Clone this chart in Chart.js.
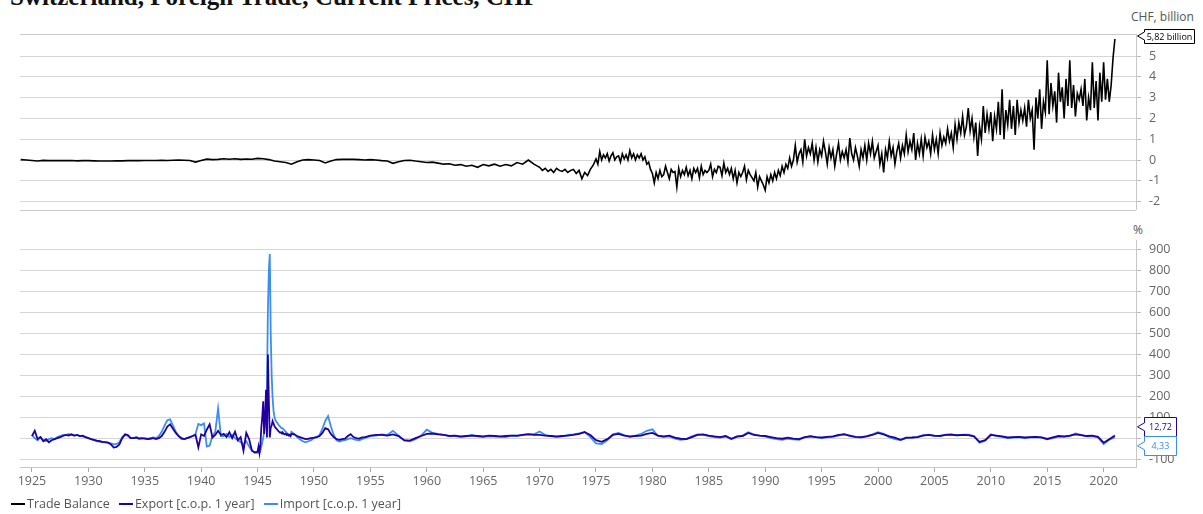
<!DOCTYPE html>
<html>
<head>
<meta charset="utf-8">
<script src="https://cdn.jsdelivr.net/npm/chart.js@4.4.1/dist/chart.umd.min.js"></script>
<style>
  html, body { margin: 0; padding: 0; background: #fff; }
  body { width: 1203px; height: 514px; position: relative; overflow: hidden; font-family: "Open Sans", sans-serif; }
  canvas { position: absolute; left: 0; }
  #title { position: absolute; left: 10px; top: -16px; font: bold 25px/25px "Liberation Serif", serif; color: #111; white-space: nowrap; }
  .unit { position: absolute; font-size: 12px; color: #555; white-space: nowrap; }
  #legend { position: absolute; left: 11px; top: 495px; font-size: 12.5px; color: #555; white-space: nowrap; }
  #legend span { margin-right: 6px; }
  #legend i { display: inline-block; width: 14px; height: 2px; vertical-align: middle; margin-right: 2px; position: relative; top: -1px; }
</style>
</head>
<body>
<div id="title">Switzerland, Foreign Trade, Current Prices, CHF</div>
<div class="unit" style="left:1131px; top:8px;">CHF, billion</div>
<div class="unit" style="left:1133px; top:221px;">%</div>
<canvas id="topChart" width="1203" height="225" style="top:0"></canvas>
<canvas id="bottomChart" width="1203" height="275" style="top:225px"></canvas>
<div id="legend">
  <span><i style="background:#000"></i>Trade Balance</span>
  <span><i style="background:#2200a0"></i>Export [c.o.p. 1 year]</span>
  <span><i style="background:#3b8ef0"></i>Import [c.o.p. 1 year]</span>
</div>
<script>
// axis ranges and tick labels
const X_MIN = 1923.94;
const X_MAX = 2022.87;
const xTickYears = [1925, 1930, 1935, 1940, 1945, 1950, 1955, 1960, 1965, 1970,
  1975, 1980, 1985, 1990, 1995, 2000, 2005, 2010, 2015, 2020];
const balanceTicks = [-2, -1, 0, 1, 2, 3, 4, 5];
const changeTicks = [-100, 0, 100, 200, 300, 400, 500, 600, 700, 800, 900];

// trade balance, CHF billion: 1924.0 .. 1969.5, half-yearly
const tradeEarly = [
  0.02, 0.00, -0.02, -0.05, -0.02, -0.03, -0.02, -0.03, -0.03, -0.02,
  -0.04, -0.03, -0.03, -0.04, -0.05, -0.05, -0.05, -0.04, -0.04, -0.03,
  -0.03, -0.03, -0.02, -0.02, -0.02, -0.01, -0.02, -0.01, 0.00, -0.01,
  -0.02, -0.10, -0.02, 0.04, 0.02, 0.03, 0.06, 0.04, 0.06, 0.03,
  0.05, 0.04, 0.08, 0.06, 0.02, -0.05, -0.08, -0.12, -0.20, -0.08,
  0.00, 0.02, 0.00, -0.02, -0.14, -0.05, 0.02, 0.03, 0.04, 0.03,
  0.02, 0.00, 0.02, 0.00, -0.03, -0.05, -0.16, -0.08, -0.02, -0.01,
  -0.05, -0.08, -0.12, -0.10, -0.15, -0.20, -0.18, -0.25, -0.22, -0.30,
  -0.25, -0.35, -0.22, -0.28, -0.20, -0.30, -0.22, -0.28, -0.12, -0.20,
  0.00, -0.20
];
// trade balance: 1970.0 .. 1974.75, quarterly
const tradeMid = [
  -0.35, -0.50, -0.40, -0.55,
  -0.45, -0.60, -0.40, -0.50,
  -0.55, -0.45, -0.60, -0.50,
  -0.45, -0.65, -0.50, -0.90,
  -0.60, -0.75, -0.45, -0.25
];
// trade balance: 1975.0 .. 2021.0, every two months
const tradeLate = [
  0.05, -0.20, 0.40, 0.00, 0.25, 0.10,
  0.30, -0.05, 0.20, 0.35, 0.00, 0.15,
  0.20, -0.10, 0.30, 0.05, 0.25, 0.00,
  0.45, 0.10, 0.30, 0.00, 0.25, 0.10,
  0.30, 0.00, 0.15, -0.20, -0.10, -0.45,
  -0.65, -1.10, -0.60, -0.90, -0.50, -0.80,
  -0.70, -0.30, -0.60, -0.90, -0.45, -0.60,
  -0.55, -1.30, -0.40, -0.80, -0.50, -0.70,
  -0.35, -0.75, -0.50, -0.90, -0.40, -0.60,
  -0.40, -0.85, -0.30, -0.70, -0.50, -0.60,
  -0.50, -0.20, -0.80, -0.45, -0.60, -0.30,
  -0.35, -0.75, -0.15, -0.60, -0.40, -0.70,
  -0.40, -0.90, -0.50, -1.10, -0.60, -0.80,
  -0.60, -0.30, -0.95, -0.50, -0.70, -0.85,
  -1.00, -0.60, -1.30, -0.80, -1.00, -1.20,
  -1.45, -0.80, -1.10, -0.70, -1.00, -0.60,
  -0.90, -0.50, -0.75, -0.30, -0.60, -0.20,
  -0.40, 0.10, -0.30, 0.00, 0.70, -0.10,
  0.30, 0.50, -0.10, 1.00, 0.20, 0.60,
  0.30, 0.80, 0.00, 0.60, -0.10, 0.50,
  0.20, 0.90, 0.40, -0.20, 0.60, 0.10,
  0.50, -0.30, 0.30, 0.80, 0.00, 0.40,
  0.10, 0.50, -0.10, 1.05, 0.30, 0.00,
  0.60, 0.20, -0.30, 0.50, 0.10, 0.70,
  0.00, 0.80, 0.30, 0.90, 0.10, 0.40,
  0.70, -0.20, 0.30, -0.60, 0.50, 0.10,
  0.90, 0.20, 0.60, -0.20, 0.40, 0.80,
  0.10, 0.70, 0.30, 1.20, 0.40, 0.90,
  0.50, 1.30, 0.00, 0.80, 0.30, 1.00,
  0.20, 1.10, 0.60, 0.90, 0.30, 1.20,
  0.50, 1.00, 0.30, 1.30, 0.70, 1.10,
  0.80, 1.50, 0.90, 1.30, 0.60, 1.70,
  1.00, 1.80, 1.30, 2.10, 1.20, 1.60,
  2.50, 1.40, 2.00, 1.10, 1.80, 0.20,
  1.60, 1.00, 2.60, 1.30, 2.20, 1.50,
  2.30, 0.90, 2.10, 1.50, 2.80, 1.20,
  3.40, 1.00, 2.40, 1.70, 2.90, 1.50,
  2.60, 1.20, 2.90, 1.80, 2.40, 1.90,
  2.50, 1.60, 2.90, 2.00, 2.40, 0.50,
  3.00, 2.00, 3.40, 1.50, 2.80, 2.30,
  4.80, 2.20, 3.70, 2.60, 3.30, 1.80,
  4.20, 2.80, 3.50, 2.00, 3.90, 2.60,
  4.80, 2.50, 3.60, 2.10, 3.20, 2.90,
  3.40, 2.60, 3.90, 1.90, 3.00, 2.40,
  4.70, 2.50, 3.80, 1.90, 4.20, 2.80,
  4.70, 2.90, 3.90, 2.80, 3.60, 4.90,
  5.82
];

// export, % change on previous year
const exportEarly = [ // 1925.0 .. 1944.75, quarterly
  10, 35, -5, 5,  -15, -5, -20, -10,  -5, 0, 5, 10,  15, 12, 18, 12,  15, 10, 12, 5,
  0, -5, -8, -12,  -15, -18, -20, -22,  -30, -45, -42, -30,  0, 18, 15, 0,  0, 2, -3, 0,
  -2, -5, -3, 0,  -5, 0, 10, 30,  55, 66, 45, 25,  10, 0, -5, 0,  5, 10, 15, -44,
  18, 10, 40, 66,  3, 15, 35, 15,  20, 5, 28, 0,  30, -10, 5, -60,  25, -5, -60, -68
];
const exportWar = [ // 1945.0 .. 1947.917, monthly
  -65, -40, -70, -30, 50, 100, 176, 20, 100, 231, 3, 399,
  176, 3, 50, 60, 81, 70, 57, 50, 45, 40, 34, 30,
  26, 28, 22, 25, 20, 18, 20, 15, 18, 12, 15, 10
];
const exportMid = [ // 1948.0 .. 1954.75, quarterly
  20, 18, 10, 5,  0, -5, -3, 0,  2, 5, 10, 25,  48, 42, 20, 5,
  -5, -8, -5, -3,  10, 19, 5, 0,  -2, 3, 5, 8
];
const exportLate = [ // 1955.0 .. 2021.0, half-yearly
  12, 15, 15, 12, 18, 10, -10, -12, 0, 10,
  20, 22, 18, 15, 10, 12, 8, 10, 12, 10,
  8, 12, 10, 8, 10, 12, 12, 15, 18, 15,
  15, 12, 10, 8, 10, 12, 15, 20, 28, 15,
  -10, -18, -5, 15, 20, 12, 8, 10, 12, 20,
  25, 12, 8, 12, 2, -3, -5, 5, 15, 18,
  12, 8, 5, 10, -3, 8, 10, 25, 15, 12,
  10, 5, 0, -3, 2, -2, -5, 5, 8, 5,
  3, 6, 8, 15, 18, 12, 6, 5, 8, 15,
  25, 18, 8, 2, -8, 2, 3, 5, 12, 15,
  12, 10, 15, 16, 14, 15, 14, 8, -18, -10,
  15, 12, 8, 3, 5, 6, 3, 5, 6, 4,
  -4, 3, 10, 8, 12, 18, 14, 10, 12, 6,
  -22, -5, 12.72
];

// import, % change on previous year
const importEarly = [ // 1925.0 .. 1944.75, quarterly
  15, 0, -10, 5,  -10, -15, -5, 0,  -5, 5, 10, 15,  15, 20, 15, 12,  15, 10, 8, 5,
  0, -5, -10, -15,  -15, -20, -18, -22,  -25, -30, -28, -20,  5, 15, 10, 0,  0, 5, 0, -2,
  0, -3, 0, 3,  0, 10, 30, 60,  85, 90, 60, 30,  10, -5, -5, 0,  5, 10, 20, 68,
  62, 70, -40, -35,  10, 30, 141, 10,  10, 20, 5, 15,  0, -10, -20, -30,  -15, -40, -60, -70
];
const importWar = [ // 1945.0 .. 1947.917, monthly
  -70, -65, -72, -60, -40, -20, 0, 30, 60, 120, 250, 616,
  800, 879, 500, 300, 192, 130, 100, 85, 78, 73, 65, 60,
  55, 50, 48, 45, 40, 35, 30, 25, 20, 18, 15, 10
];
const importMid = [ // 1948.0 .. 1954.75, quarterly
  30, 20, 5, -5,  -15, -20, -15, -10,  0, 5, 15, 45,  82, 105, 55, 15,
  -10, -16, -12, -10,  -5, 0, -5, -8,  -10, -5, 0, 5
];
const importLate = [ // 1955.0 .. 2021.0, half-yearly
  10, 12, 18, 15, 35, 12, -12, -15, -5, 12,
  40, 25, 20, 15, 12, 10, 5, 8, 15, 8,
  5, 10, 8, 6, 5, 12, 10, 15, 20, 18,
  32, 15, 10, 5, 8, 15, 18, 22, 30, 5,
  -25, -28, -10, 18, 25, 15, 5, 12, 20, 35,
  42, 10, 5, 8, -3, -8, -5, 8, 18, 15,
  10, 5, 3, 8, -5, 6, 12, 28, 18, 12,
  8, 0, -5, -8, -3, -6, -8, 3, 10, 5,
  0, 4, 6, 12, 20, 10, 5, 3, 10, 18,
  28, 20, 5, -5, -9, 0, 2, 6, 14, 16,
  10, 12, 17, 18, 12, 16, 16, 10, -22, -12,
  18, 10, 6, 0, 3, 5, 0, 4, 5, 2,
  -6, 0, 8, 6, 10, 22, 15, 8, 10, 3,
  -28, -8, 4.33
];

const GRID = '#d6d6d6';
const AXIS = '#c8c8c8';
const TICK_FONT = { family: 'Open Sans', size: 12.5 };
const BLACK = '#000000';
const EXPORT_COLOR = '#2200a0';
const IMPORT_COLOR = '#3b8ef0';

function seg(start, step, values) {
    return values.map((v, i) => ({ x: start + i * step, y: v }));
}

const tradeSeries = [...seg(1924, 0.5, tradeEarly), ...seg(1970, 0.25, tradeMid),
    ...seg(1975, 1 / 6, tradeLate)];
const exportSeries = [...seg(1925, 0.25, exportEarly), ...seg(1945, 1 / 12, exportWar),
    ...seg(1948, 0.25, exportMid), ...seg(1955, 0.5, exportLate)];
const importSeries = [...seg(1925, 0.25, importEarly), ...seg(1945, 1 / 12, importWar),
    ...seg(1948, 0.25, importMid), ...seg(1955, 0.5, importLate)];

function decimalComma(v) {
    return v.toFixed(2).replace('.', ',');
}

/**
 * Lines on the top and bottom edge of the plot area.
 */
const panelFrame = {
    id: 'panelFrame',
    beforeDatasetsDraw(chart, args, opts) {
        const { ctx, chartArea } = chart;
        ctx.save();
        ctx.strokeStyle = AXIS;
        ctx.lineWidth = 1;
        ctx.beginPath();
        for (const edge of opts.edges || []) {
            const y = Math.round(chartArea[edge]) + 0.5;
            ctx.moveTo(chartArea.left, y);
            ctx.lineTo(chartArea.right, y);
        }
        ctx.stroke();
        ctx.restore();
    }
};

/**
 * Last value boxes on the right axis.
 */
const valueTags = {
    id: 'valueTags',
    afterDraw(chart, args, opts) {
        const { ctx, chartArea } = chart;
        const yScale = chart.scales.y;
        const tags = opts.tags.map(t => {
            const data = chart.data.datasets[t.dataset].data;
            const last = data[data.length - 1].y;
            return { ...t, value: last, y: yScale.getPixelForValue(last) + (t.dy || 0) };
        });
        tags.sort((a, b) => a.y - b.y);
        for (let i = 1; i < tags.length; i++) {
            const a = tags[i - 1], b = tags[i];
            if (b.y - a.y < (a.h + b.h) / 2) {
                const mid = (a.y + b.y) / 2;
                a.y = mid - a.h / 2;
                b.y = mid + b.h / 2;
            }
        }
        ctx.save();
        for (const t of tags) {
            const tipX = chartArea.right + 1.5;
            const left = chartArea.right + 8.5;
            const top = Math.round(t.y - t.h / 2) + 0.5;
            const bottom = top + t.h;
            const cy = t.y;
            ctx.beginPath();
            ctx.moveTo(left, top);
            ctx.lineTo(left + t.w, top);
            ctx.lineTo(left + t.w, bottom);
            ctx.lineTo(left, bottom);
            ctx.lineTo(left, cy + 4);
            ctx.lineTo(tipX, cy);
            ctx.lineTo(left, cy - 4);
            ctx.closePath();
            ctx.fillStyle = '#ffffff';
            ctx.fill();
            ctx.strokeStyle = t.color;
            ctx.lineWidth = 1;
            ctx.stroke();
            ctx.fillStyle = t.color;
            ctx.font = '9px "Open Sans"';
            ctx.textAlign = 'center';
            ctx.textBaseline = 'middle';
            ctx.fillText(t.format(t.value), left + t.w / 2, (top + bottom) / 2 + 0.5);
        }
        ctx.restore();
    }
};

function rightAxis(min, max, tickList) {
    return {
        position: 'right',
        min: min,
        max: max,
        afterFit(scale) { scale.width = 67; },
        afterBuildTicks(scale) { scale.ticks = tickList.map(v => ({ value: v })); },
        grid: { color: GRID, lineWidth: 1, drawTicks: true, tickLength: 5, tickColor: '#bbbbbb' },
        border: { display: true, color: AXIS },
        ticks: { color: '#666666', font: TICK_FONT, padding: 8, callback: v => String(v) }
    };
}

const topChart = new Chart(document.getElementById('topChart'), {
    type: 'line',
    data: {
        datasets: [{
            label: 'Trade Balance',
            data: tradeSeries,
            borderColor: BLACK,
            borderWidth: 1.6,
            pointRadius: 0,
            tension: 0
        }]
    },
    options: {
        responsive: false,
        animation: false,
        devicePixelRatio: 1,
        layout: { padding: { top: 34, bottom: 8, left: 20, right: 0 } },
        scales: {
            x: { type: 'linear', min: X_MIN, max: X_MAX, display: false },
            y: rightAxis(-2.38, 6.06, balanceTicks)
        },
        plugins: {
            legend: { display: false },
            tooltip: { enabled: false },
            panelFrame: { edges: ['top', 'bottom'] },
            valueTags: {
                tags: [{ dataset: 0, color: BLACK, w: 50, h: 14, dy: -3, format: v => decimalComma(v) + ' billion' }]
            }
        }
    },
    plugins: [panelFrame, valueTags]
});

const bottomChart = new Chart(document.getElementById('bottomChart'), {
    type: 'line',
    data: {
        datasets: [{
            label: 'Export [c.o.p. 1 year]',
            data: exportSeries,
            borderColor: EXPORT_COLOR,
            borderWidth: 1.8,
            pointRadius: 0,
            tension: 0
        }, {
            label: 'Import [c.o.p. 1 year]',
            data: importSeries,
            borderColor: IMPORT_COLOR,
            borderWidth: 1.8,
            pointRadius: 0,
            tension: 0
        }]
    },
    options: {
        responsive: false,
        animation: false,
        devicePixelRatio: 1,
        layout: { padding: { top: 13, bottom: 0, left: 20, right: 0 } },
        scales: {
            x: {
                type: 'linear',
                min: X_MIN,
                max: X_MAX,
                afterFit(scale) { scale.height = 33; },
                afterBuildTicks(scale) { scale.ticks = xTickYears.map(v => ({ value: v })); },
                grid: { drawOnChartArea: false, drawTicks: true, tickLength: 5, tickColor: '#aaaaaa' },
                border: { display: true, color: AXIS },
                ticks: { color: '#666666', font: TICK_FONT, padding: 2, maxRotation: 0, autoSkip: false, callback: v => String(v) }
            },
            y: rightAxis(-138, 944, changeTicks)
        },
        plugins: {
            legend: { display: false },
            tooltip: { enabled: false },
            valueTags: {
                tags: [
                    { dataset: 0, color: EXPORT_COLOR, w: 32, h: 19, format: decimalComma },
                    { dataset: 1, color: IMPORT_COLOR, w: 32, h: 19, format: decimalComma }
                ]
            }
        }
    },
    plugins: [valueTags]
});
</script>
</body>
</html>
